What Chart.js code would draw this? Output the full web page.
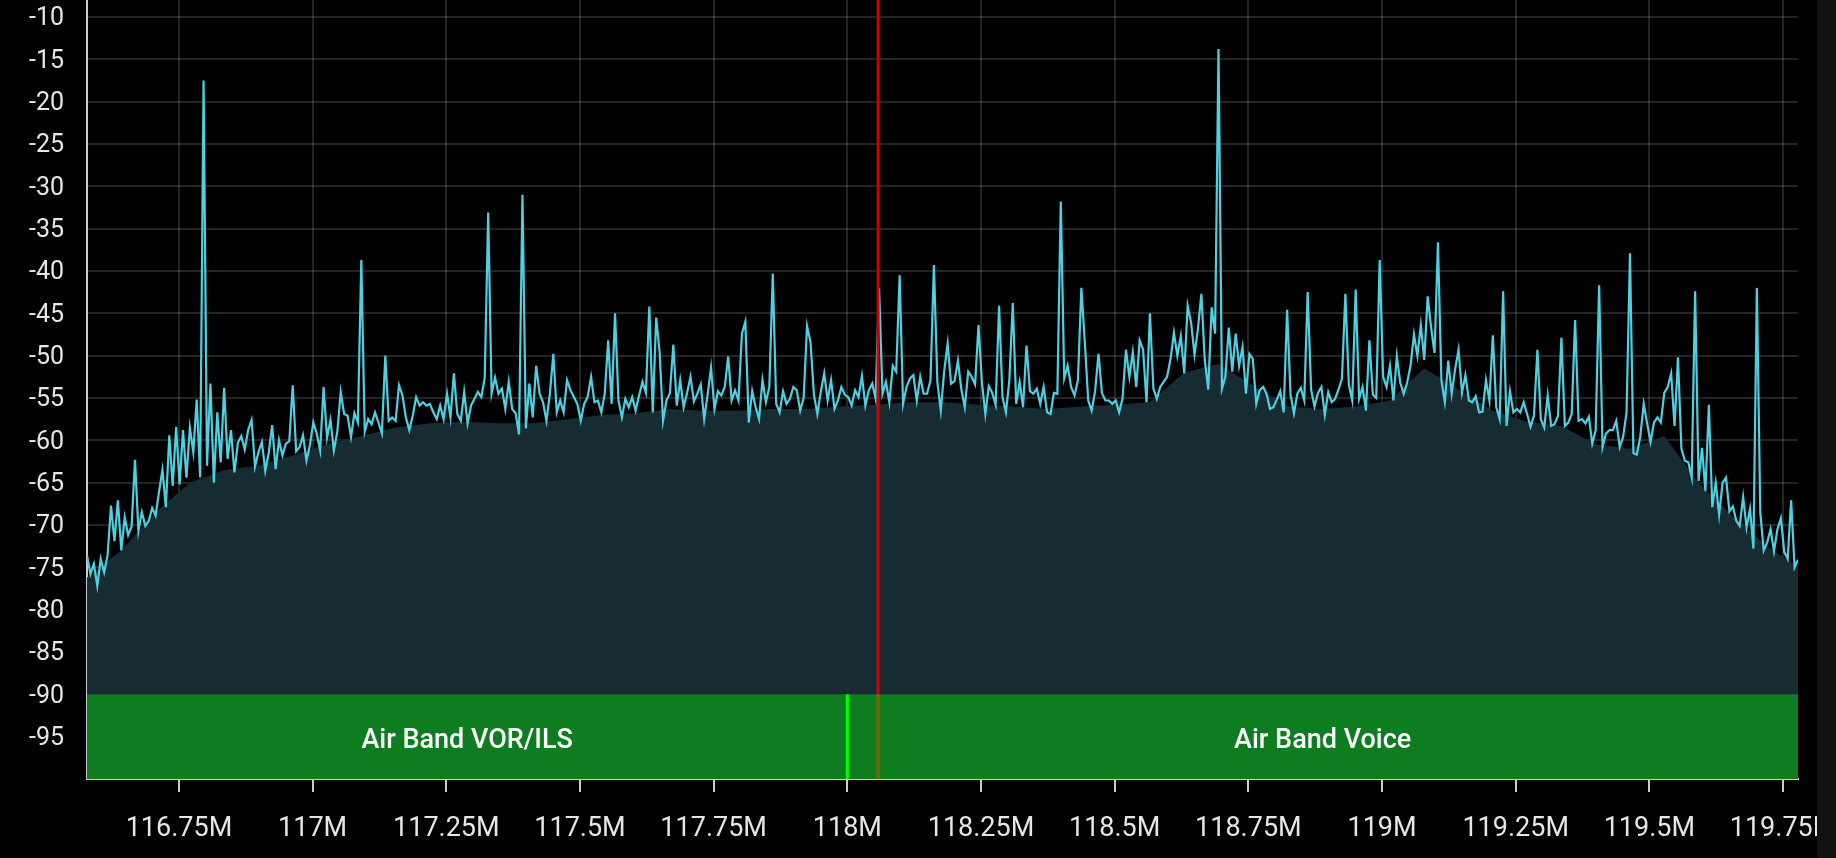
<!DOCTYPE html>
<html>
<head>
<meta charset="utf-8">
<script src="https://cdn.jsdelivr.net/npm/chart.js@4.4.1/dist/chart.umd.min.js"></script>
<style>
  html, body { margin: 0; padding: 0; background: #000; overflow: hidden; }
  #wrap { position: relative; width: 1836px; height: 858px; }
  #edge { position: absolute; left: 1817px; top: 0; width: 19px; height: 858px; background: #121212; }
</style>
</head>
<body>
<div id="wrap">
  <canvas id="spectrum" width="1836" height="858"></canvas>
  <div id="edge"></div>
</div>
<script>
// FFT bins: first bin frequency and bin width, MHz
const startFreq = 116.578
const binWidth = 0.0064128

// power per bin, dB
const spectrum = [
  -73.6,-75.8,-74.6,-77.2,-74.0,-75.6,-73.6,-67.7,-71.9,-67.1,
  -73.0,-69.1,-71.2,-70.2,-62.3,-70.7,-68.5,-70.1,-69.5,-68.0,
  -68.9,-66.1,-63.5,-67.9,-59.4,-65.4,-58.4,-65.2,-58.8,-64.4,
  -58.5,-61.4,-55.2,-64.4,-17.5,-63.0,-53.3,-65.0,-56.7,-62.6,
  -53.8,-62.2,-58.8,-63.8,-60.3,-59.5,-61.1,-58.8,-57.6,-63.1,
  -61.4,-60.2,-63.6,-61.5,-58.2,-63.4,-60.0,-61.8,-60.4,-60.1,
  -53.5,-61.3,-60.8,-59.4,-62.4,-60.6,-57.9,-59.2,-61.2,-53.7,
  -59.7,-57.6,-61.2,-59.0,-54.3,-56.9,-57.1,-59.6,-56.8,-57.9,
  -38.7,-59.0,-57.5,-58.1,-56.7,-57.9,-59.2,-50.0,-57.7,-57.3,
  -57.7,-53.5,-54.7,-57.3,-58.8,-57.1,-54.9,-55.9,-55.5,-55.9,
  -55.7,-56.7,-57.5,-55.9,-57.5,-54.5,-57.3,-52.1,-56.9,-57.7,
  -54.3,-58.0,-55.9,-55.1,-54.3,-54.9,-52.6,-33.1,-54.5,-52.6,
  -54.5,-53.9,-56.3,-53.1,-56.3,-56.8,-59.3,-31.0,-58.6,-53.3,
  -57.3,-51.2,-54.5,-55.5,-57.7,-54.5,-49.8,-56.7,-55.3,-56.7,
  -52.9,-54.1,-54.9,-55.7,-57.7,-55.7,-54.9,-52.5,-55.5,-55.3,
  -56.7,-54.5,-48.2,-55.7,-45.0,-55.3,-57.3,-55.1,-56.1,-54.9,
  -56.5,-54.7,-53.1,-54.4,-44.2,-56.7,-45.5,-49.6,-57.7,-55.3,
  -54.4,-48.7,-55.9,-52.9,-56.1,-54.4,-52.5,-55.4,-54.5,-53.4,
  -57.5,-54.6,-51.4,-56.3,-54.2,-54.7,-53.7,-50.1,-55.3,-54.1,
  -55.3,-47.4,-46.0,-57.9,-54.2,-56.1,-57.5,-52.9,-55.5,-53.7,
  -40.3,-55.7,-56.7,-54.2,-55.7,-55.1,-53.7,-54.1,-56.5,-55.0,
  -46.5,-48.4,-54.6,-56.9,-54.3,-52.1,-55.3,-52.9,-56.3,-55.3,
  -53.7,-54.6,-54.9,-55.9,-54.1,-54.9,-52.4,-55.9,-54.1,-53.3,
  -55.1,-42.0,-54.5,-53.1,-55.5,-51.2,-51.9,-40.5,-55.7,-53.7,
  -52.7,-52.3,-55.3,-52.5,-54.5,-54.5,-52.9,-39.3,-53.1,-56.5,
  -51.8,-48.6,-53.3,-53.0,-50.6,-54.0,-56.1,-51.9,-52.5,-53.4,
  -46.4,-53.2,-56.9,-53.6,-54.4,-55.8,-44.1,-54.9,-56.7,-52.9,
  -43.8,-55.7,-53.1,-56.1,-48.8,-54.2,-54.5,-53.9,-55.7,-53.7,
  -56.7,-56.9,-54.4,-54.5,-31.8,-52.7,-51.2,-53.7,-54.7,-52.9,
  -42.0,-48.4,-55.3,-56.5,-54.2,-49.8,-54.4,-55.3,-55.3,-55.7,
  -55.3,-56.7,-55.1,-49.3,-52.5,-49.6,-53.7,-48.2,-49.3,-55.5,
  -45.0,-53.9,-55.1,-53.7,-53.1,-52.5,-50.4,-47.3,-50.0,-47.7,
  -52.1,-44.1,-46.1,-49.9,-46.8,-42.7,-50.6,-54.0,-44.3,-47.4,
  -13.8,-53.9,-52.5,-46.7,-51.9,-47.4,-51.2,-49.0,-54.5,-49.8,
  -50.4,-55.7,-54.1,-53.7,-54.5,-56.3,-56.1,-55.2,-54.2,-56.7,
  -44.6,-54.6,-56.8,-54.5,-53.8,-55.3,-42.5,-54.0,-56.0,-54.4,
  -53.7,-57.0,-54.3,-55.5,-55.1,-54.0,-52.7,-42.7,-53.4,-55.3,
  -42.2,-55.1,-53.7,-56.5,-48.2,-54.6,-55.0,-38.7,-52.5,-53.7,
  -51.2,-55.3,-50.1,-53.2,-54.5,-53.2,-51.2,-47.5,-50.0,-46.4,
  -50.5,-43.0,-46.7,-49.7,-36.6,-52.9,-55.5,-50.6,-54.5,-51.6,
  -49.3,-54.4,-52.3,-55.3,-55.5,-54.8,-56.7,-56.6,-52.9,-55.3,
  -47.6,-56.1,-57.5,-42.4,-58.3,-54.2,-56.7,-56.3,-56.7,-55.5,
  -56.9,-58.4,-57.1,-49.3,-57.5,-58.5,-54.7,-58.3,-58.1,-57.1,
  -47.9,-58.3,-57.9,-56.9,-45.8,-57.7,-57.5,-58.0,-57.2,-60.4,
  -58.8,-41.7,-60.8,-59.2,-58.8,-58.8,-57.7,-60.8,-59.6,-56.7,
  -37.9,-61.5,-61.7,-59.6,-55.7,-58.0,-60.2,-57.9,-57.3,-57.9,
  -54.4,-53.7,-52.1,-58.3,-50.2,-61.0,-62.4,-62.6,-64.4,-42.4,
  -64.8,-60.9,-66.0,-55.8,-67.9,-65.0,-68.8,-65.0,-64.4,-68.4,
  -67.8,-69.5,-70.1,-66.7,-70.3,-68.1,-72.8,-42.0,-68.5,-73.0,
  -72.1,-70.5,-73.1,-70.5,-69.2,-73.2,-74.0,-67.1,-75.0,-74.1
]

// lower envelope (filled area), every 10th bin
const envelopeBins = [0,10,20,30,40,50,60,70,80,90,100,110,120,130,140,150,160,170,180,190,
  200,210,220,230,240,250,260,270,280,290,300,310,320,330,340,350,360,370,380,390,
  400,410,420,430,440,450,460,470,480,490,499]
const envelope = [-76.2,-73.0,-68.5,-65.0,-63.5,-63.0,-61.8,-60.5,-59.5,-58.5,
  -58.0,-57.8,-58.0,-58.0,-57.5,-57.0,-56.8,-56.3,-56.5,-56.5,
  -56.3,-56.3,-56.0,-55.8,-55.5,-55.5,-55.8,-56.0,-56.3,-56.0,
  -55.8,-55.5,-52.0,-51.0,-53.5,-56.0,-56.3,-56.0,-55.3,-51.5,
  -54.0,-56.5,-57.8,-58.3,-60.5,-61.0,-59.5,-65.0,-69.0,-72.5,-75.0]

// band plan
const bandNames = ['Air Band VOR/ILS', 'Air Band Voice']
const bandStarts = [108, 118]
const bandEnds = [118, 137]
const bandTopDb = -90

// tuned frequency, MHz
const tunedFreq = 118.0575

const xTicks = [116.75, 117, 117.25, 117.5, 117.75, 118, 118.25, 118.5, 118.75, 119, 119.25, 119.5, 119.75]
const yTicks = [-95, -90, -85, -80, -75, -70, -65, -60, -55, -50, -45, -40, -35, -30, -25, -20, -15, -10]

const binFreq = i => startFreq + i * binWidth
const lineData = spectrum.map((v, i) => ({x: binFreq(i), y: v}))
const envData = envelope.map((v, i) => ({x: binFreq(envelopeBins[i]), y: v}))

const bandPlugin = {
  id: 'bands',
  afterDatasetsDraw(chart) {
    const {ctx, chartArea: a, scales: {x, y}} = chart
    ctx.save()
    // tuned marker sits under the band fill
    const tx = x.getPixelForValue(tunedFreq)
    ctx.strokeStyle = '#d40000'
    ctx.lineWidth = 3
    ctx.beginPath()
    ctx.moveTo(tx, a.top)
    ctx.lineTo(tx, a.bottom)
    ctx.stroke()

    const top = y.getPixelForValue(bandTopDb)
    ctx.fillStyle = 'rgba(0, 255, 0, 0.39)'
    bandStarts.forEach((s, i) => {
      const l = Math.max(a.left, x.getPixelForValue(s))
      const r = Math.min(a.right, x.getPixelForValue(bandEnds[i]))
      ctx.fillRect(l, top, r - l, a.bottom - top)
    })
    ctx.restore()
  },
  afterDraw(chart) {
    const {ctx, chartArea: a, scales: {x, y}} = chart
    ctx.save()
    const top = y.getPixelForValue(bandTopDb)
    ctx.strokeStyle = '#00ff00'
    ctx.lineWidth = 3
    bandStarts.forEach(s => {
      const px = x.getPixelForValue(s)
      if (px > a.left && px < a.right) {
        ctx.beginPath()
        ctx.moveTo(px, top)
        ctx.lineTo(px, a.bottom)
        ctx.stroke()
      }
    })
    ctx.fillStyle = '#ffffff'
    ctx.font = '500 27px Roboto'
    ctx.textAlign = 'center'
    ctx.textBaseline = 'middle'
    bandNames.forEach((name, i) => {
      const l = Math.max(a.left, x.getPixelForValue(bandStarts[i]))
      const r = Math.min(a.right, x.getPixelForValue(bandEnds[i]))
      ctx.fillText(name, (l + r) / 2, (top + a.bottom) / 2 + 5)
    })
    ctx.restore()
  }
}

Chart.defaults.font.family = 'Roboto'

new Chart(document.getElementById('spectrum'), {
  type: 'line',
  data: {
    datasets: [{
      data: lineData,
      borderColor: '#4dd0e1',
      borderWidth: 2.2,
      pointRadius: 0,
      fill: false
    }, {
      data: envData,
      borderWidth: 0,
      pointRadius: 0,
      backgroundColor: '#172b33',
      fill: 'start'
    }]
  },
  options: {
    responsive: false,
    animation: false,
    layout: { autoPadding: false, padding: { left: 0, right: 38, top: 0, bottom: 0 } },
    plugins: { legend: { display: false }, tooltip: { enabled: false } },
    scales: {
      x: {
        type: 'linear',
        z: 1,
        min: startFreq,
        max: binFreq(spectrum.length - 1),
        afterBuildTicks: s => { s.ticks = xTicks.map(v => ({value: v})) },
        afterFit: s => { s.height = 79; s.paddingLeft = 0; s.paddingRight = 0 },
        grid: { color: 'rgba(255,255,255,0.14)', lineWidth: 2, tickLength: 13, tickColor: '#cccccc', tickWidth: 2 },
        border: { color: '#cccccc', width: 2 },
        ticks: { color: '#e6e6e6', font: { size: 27 }, padding: 21, maxRotation: 0, autoSkip: false,
          callback: v => v + 'M' }
      },
      y: {
        z: 1,
        min: -100,
        max: -8,
        afterBuildTicks: s => { s.ticks = yTicks.map(v => ({value: v})) },
        afterFit: s => { s.width = 87; s.paddingTop = 0; s.paddingBottom = 0 },
        grid: { color: 'rgba(255,255,255,0.14)', lineWidth: 2, drawTicks: false },
        border: { color: '#cccccc', width: 2 },
        ticks: { color: '#e6e6e6', font: { size: 25 }, padding: 23, labelOffset: 2 }
      }
    }
  },
  plugins: [bandPlugin]
})
</script>
</body>
</html>
